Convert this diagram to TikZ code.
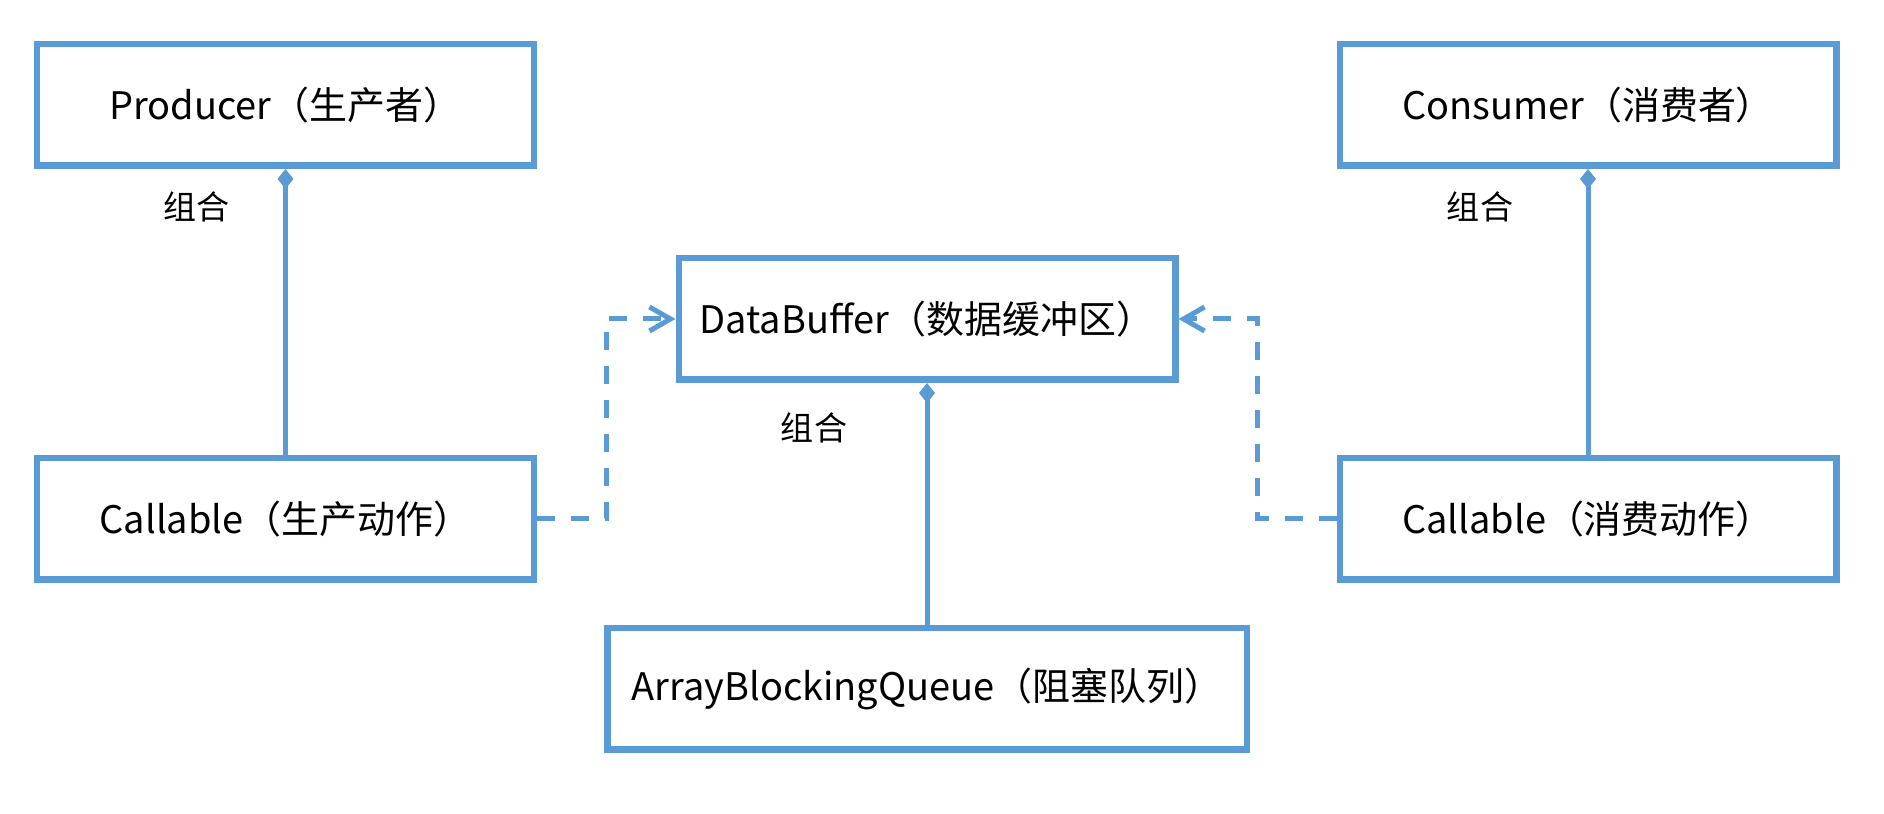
\documentclass[tikz,border=0pt]{standalone}
\usepackage{fontspec}
\setmainfont{Noto Sans CJK SC}
\usepackage{tikz}
\usetikzlibrary{calc}
\usetikzlibrary{arrows.meta,positioning}
\definecolor{umlblue}{RGB}{91,155,213}

\begin{document}
\begin{tikzpicture}[line join=miter,
  box/.style={draw=umlblue, line width=0.065cm, minimum width=4.965cm, minimum height=1.215cm, inner sep=0pt, font=\fontsize{10.8pt}{13pt}\selectfont},
  comp/.style={draw=umlblue, line width=0.05cm, {Diamond[length=0.2cm,width=0.16cm]}-},
  dep/.style={draw=umlblue, line width=0.05cm, dash pattern=on 0.18cm off 0.16cm, -{Straight Barb[length=0.21cm,width=0.24cm]}},
  lbl/.style={font=\fontsize{9.4pt}{11pt}\selectfont}]
\useasboundingbox (0,0) rectangle (18.84,8.14);
% boxes
\node [box] (prod) at (2.855,7.09) {Producer（生产者）};
\node [box] (cp) at (2.855,2.95) {Callable（生产动作）};
\node [box] (cons) at (15.88,7.09) {Consumer（消费者）};
\node [box] (cc) at (15.88,2.95) {Callable（消费动作）};
\node [box] (db) at (9.27,4.95) {DataBuffer（数据缓冲区）};
\node [box, minimum width=6.395cm] (abq) at (9.27,1.25) {ArrayBlockingQueue（阻塞队列）};
% composition
\draw [comp] (prod.south) -- (cp.north);
\draw [comp] (cons.south) -- (cc.north);
\draw [comp] (db.south) -- (abq.north);
\node [lbl] (lp) at (1.965,6.07) {组合};
\node [lbl] (lc) at (14.80,6.07) {组合};
\node [lbl] (ld) at (8.14,3.86) {组合};
% dependency
\draw [dep] (cp.east) -| ($(cp.east)!0.5!(db.west)$) |- (db.west);
\draw [dep] (cc.west) -| ($(cc.west)!0.5!(db.east)$) |- (db.east);
\end{tikzpicture}
\end{document}
